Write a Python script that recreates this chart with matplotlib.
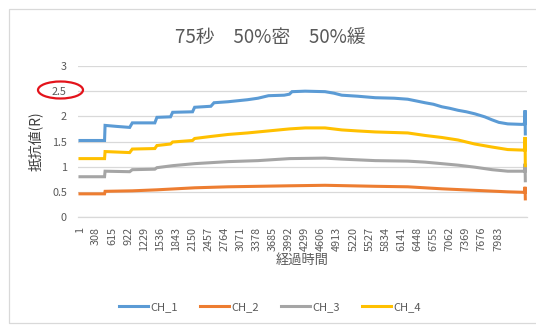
import matplotlib
matplotlib.use("Agg")
import matplotlib.pyplot as plt
from matplotlib.patches import Ellipse, Rectangle

plt.rcParams['font.family'] = ['Noto Sans CJK JP', 'DejaVu Sans']

# Sample index / resistance readings per channel
ch1_idx = [1, 470, 480, 700, 950, 1000, 1430, 1470, 1730, 1770, 2150, 2190, 2500, 2560,
           2830, 3200, 3400, 3600, 3900, 4000, 4050, 4300, 4680, 4850, 5000, 5300, 5640,
           6000, 6260, 6450, 6590, 6750, 6910, 7060, 7220, 7380, 7540, 7730, 7870, 8000,
           8170, 8440, 8495, 8500, 8505]
ch1_val = [1.52, 1.52, 1.82, 1.80, 1.78, 1.87, 1.87, 1.98, 1.99, 2.08, 2.09, 2.18, 2.20, 2.27,
           2.29, 2.33, 2.36, 2.41, 2.42, 2.44, 2.49, 2.50, 2.49, 2.46, 2.42, 2.40, 2.37,
           2.36, 2.34, 2.30, 2.27, 2.24, 2.19, 2.16, 2.12, 2.09, 2.05, 1.99, 1.93, 1.88,
           1.85, 1.84, 1.85, 2.12, 1.65]

ch2_idx = [1, 470, 480, 1000, 1470, 2190, 2830, 4000, 4680, 5640, 6260, 6910, 7540, 8170,
           8495, 8500, 8505]
ch2_val = [0.46, 0.46, 0.51, 0.52, 0.54, 0.58, 0.60, 0.62, 0.63, 0.61, 0.60, 0.56, 0.53, 0.50,
           0.49, 0.60, 0.36]

ch3_idx = [1, 470, 480, 950, 1000, 1430, 1470, 1770, 2190, 2830, 3400, 4000, 4680, 5000,
           5640, 6260, 6590, 6910, 7220, 7540, 7870, 8170, 8495, 8500, 8505]
ch3_val = [0.80, 0.80, 0.91, 0.90, 0.94, 0.95, 0.98, 1.02, 1.06, 1.10, 1.12, 1.16, 1.17, 1.15,
           1.12, 1.11, 1.09, 1.06, 1.03, 0.99, 0.94, 0.91, 0.91, 1.06, 0.72]

ch4_idx = [1, 470, 480, 950, 1000, 1430, 1470, 1730, 1770, 2150, 2190, 2500, 2830, 3200,
           3600, 4000, 4300, 4680, 5000, 5300, 5640, 6260, 6590, 6910, 7220, 7540, 7870,
           8170, 8440, 8495, 8500, 8505]
ch4_val = [1.16, 1.16, 1.30, 1.28, 1.35, 1.36, 1.42, 1.45, 1.49, 1.52, 1.56, 1.60, 1.64, 1.67,
           1.71, 1.75, 1.77, 1.77, 1.73, 1.71, 1.69, 1.67, 1.62, 1.58, 1.53, 1.45, 1.39,
           1.34, 1.33, 1.33, 1.59, 1.02]

series_names = ['CH_1', 'CH_2', 'CH_3', 'CH_4']
x_tick_labels = ['1', '308', '615', '922', '1229', '1536', '1843', '2150', '2457', '2764',
                 '3071', '3378', '3685', '3992', '4299', '4606', '4913', '5220', '5527',
                 '5834', '6141', '6448', '6755', '7062', '7369', '7676', '7983']
y_ticks = [0, 0.5, 1, 1.5, 2, 2.5, 3]

colors = ['#5B9BD5', '#ED7D31', '#A5A5A5', '#FFC000']
text_gray = '#595959'
grid_gray = '#D9D9D9'

W, H = 536, 325
fig = plt.figure(figsize=(W / 100, H / 100), dpi=100)
fig.patch.set_facecolor('white')

# chart frame
fig.add_artist(Rectangle((9 / W, 1 - 323 / H), (W + 10 - 9) / W, (323 - 9) / H,
                         transform=fig.transFigure, fill=False, edgecolor=grid_gray, lw=0.9))

ax = fig.add_axes([78 / W, 1 - 217 / H, (527 - 78) / W, (217 - 66) / H])

for idx, val, c, name in zip([ch1_idx, ch2_idx, ch3_idx, ch4_idx],
                             [ch1_val, ch2_val, ch3_val, ch4_val],
                             colors, series_names):
    ax.plot(idx, val, color=c, lw=2.2, label=name, solid_joinstyle='miter')

ax.set_xlim(-37, 8537)
ax.set_ylim(0, 3)
ax.set_yticks(y_ticks)
ax.set_yticklabels(['0', '0.5', '1', '1.5', '2', '2.5', '3'])
ax.set_xticks([int(s) for s in x_tick_labels])
ax.set_xticklabels(x_tick_labels, rotation=90, va='top')
ax.tick_params(axis='both', length=0, colors=text_gray, labelsize=7.8)
ax.tick_params(axis='y', pad=8)
ax.tick_params(axis='x', pad=7)
ax.grid(axis='y', color=grid_gray, lw=0.9)
ax.set_axisbelow(True)
for s in ['top', 'right', 'left']:
    ax.spines[s].set_visible(False)
ax.spines['bottom'].set_color(grid_gray)
ax.spines['bottom'].set_linewidth(0.9)

ax.set_ylabel('抵抗値(R)', fontsize=10, color='#404040', labelpad=7)
ax.set_xlabel('経過時間', fontsize=9.5, color=text_gray, labelpad=2)

fig.text(0.505, 1 - 37.5 / H, '75秒　50%密　50%緩', ha='center', va='center',
         fontsize=13.5, color=text_gray)

fig.legend(loc='center', bbox_to_anchor=(270 / W, 1 - 307 / H), ncol=4, frameon=False,
           fontsize=8, handlelength=2.6, handletextpad=0.2, columnspacing=2.0,
           labelcolor=text_gray)

# highlight around the 2.5 label
fig.add_artist(Ellipse((60.5 / W, 1 - 90 / H), 45 / W, 17 / H, transform=fig.transFigure,
                       fill=False, edgecolor='#E3131B', lw=1.6))

fig.savefig('out.png', dpi=100, facecolor='white')
